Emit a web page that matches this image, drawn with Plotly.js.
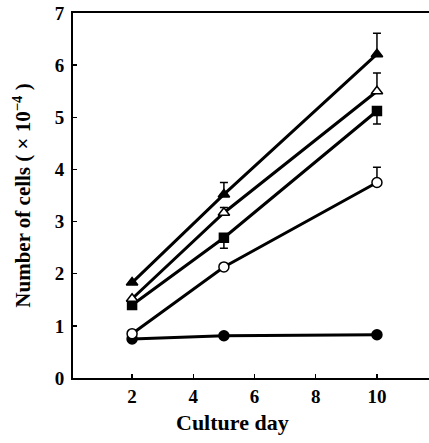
<!DOCTYPE html>
<html>
<head>
<meta charset="utf-8">
<script src="https://cdn.plot.ly/plotly-3.0.1.min.js"></script>
<style>html,body{margin:0;padding:0;background:#fff;}#chart{width:429px;height:443px;}</style>
</head>
<body>
<div id="chart"></div>
<script>
var days = [2, 5, 10];
var xTicks = [2, 4, 6, 8, 10];
var yTicks = [0, 1, 2, 3, 4, 5, 6, 7];
var xTitle = 'Culture day';
var yTitle = 'Number of cells ( \u00d7 10<sup>\u22124</sup> )';

var filledTriangle = [1.83, 3.52, 6.21];
var filledTriangleErrUp = [0, 0.23, 0.4];
var openTriangle = [1.52, 3.17, 5.5];
var openTriangleErrUp = [0, 0.1, 0.35];
var filledSquare = [1.40, 2.69, 5.12];
var filledSquareErrDown = [0, 0.2, 0.25];
var openCircle = [0.85, 2.13, 3.75];
var openCircleErrUp = [0, 0, 0.29];
var filledCircle = [0.75, 0.81, 0.83];

function series(y, sym, fill, errUp, errDown, size) {
  var t = {
    x: days, y: y, type: 'scatter', mode: 'lines+markers',
    line: {color: '#000', width: 3},
    marker: {symbol: sym, size: size, color: fill, line: {color: '#000', width: 1.5}},
    cliponaxis: false,
    showlegend: false
  };
  if (errUp || errDown) {
    t.error_y = {type: 'data', symmetric: false,
      array: errUp || [0,0,0], arrayminus: errDown || [0,0,0],
      color: '#000', thickness: 1.5, width: 4};
  }
  return t;
}

var data = [
  series(filledCircle, 'circle', '#000', null, null, 10),
  series(openCircle, 'circle', '#fff', openCircleErrUp, null, 10),
  series(filledSquare, 'square', '#000', null, filledSquareErrDown, 9),
  series(openTriangle, 'triangle-up', '#fff', openTriangleErrUp, null, 10),
  series(filledTriangle, 'triangle-up', '#000', filledTriangleErrUp, null, 10)
];

var tickFont = {family: 'Liberation Serif, serif', size: 19, color: '#000'};

var layout = {
  width: 429, height: 443,
  margin: {l: 73, r: 0, t: 13, b: 65},
  paper_bgcolor: '#fff', plot_bgcolor: '#fff',
  font: {family: 'Liberation Serif, serif', color: '#000'},
  xaxis: {
    range: [0.07, 11.7], tickvals: xTicks, ticktext: xTicks.map(function(v){return '<b>' + v + '</b>';}),
    showgrid: false, zeroline: false, showline: true, linecolor: '#000', linewidth: 2,
    mirror: true, ticks: 'inside', ticklen: 4, tickwidth: 1.5, tickcolor: '#000',
    tickfont: tickFont, ticklabelstandoff: 0
  },
  yaxis: {
    range: [0, 7], tickvals: yTicks, ticktext: yTicks.map(function(v){return '<b>' + v + '</b>';}),
    showgrid: false, zeroline: false, showline: true, linecolor: '#000', linewidth: 2,
    ticks: 'inside', ticklen: 4, tickwidth: 1.5, tickcolor: '#000',
    tickfont: tickFont, ticklabelstandoff: 3,
    title: {text: '<b>' + yTitle + '</b>', font: {family: 'Liberation Serif, serif', size: 21, color: '#000'}, standoff: 18}
  },
  annotations: [{
    text: '<b>' + xTitle + '</b>', xref: 'paper', yref: 'paper', x: 0.447, y: 0,
    xanchor: 'center', yanchor: 'middle', yshift: -44, showarrow: false,
    font: {family: 'Liberation Serif, serif', size: 22, color: '#000'}
  }]
};

Plotly.newPlot('chart', data, layout, {displayModeBar: false, staticPlot: true});
</script>
</body>
</html>
